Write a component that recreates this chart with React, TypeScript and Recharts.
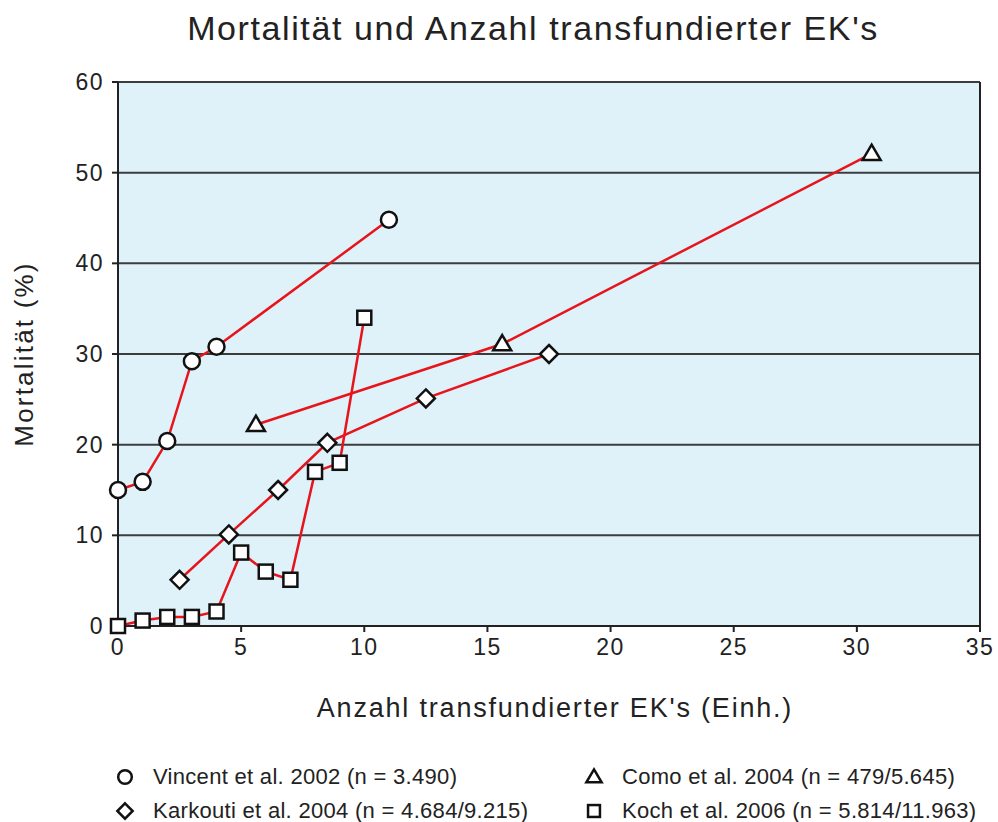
import React from "react";
import { ScatterChart, Scatter, XAxis, YAxis, CartesianGrid } from "recharts";

const vincentX = [0, 1, 2, 3, 4, 11];
const vincentY = [15, 15.9, 20.4, 29.2, 30.8, 44.8];
const comoX = [5.6, 15.6, 30.6];
const comoY = [22.2, 31.1, 52.1];
const karkoutiX = [2.5, 4.5, 6.5, 8.5, 12.5, 17.5];
const karkoutiY = [5.1, 10.1, 15, 20.2, 25.1, 30];
const kochX = [0, 1, 2, 3, 4, 5, 6, 7, 8, 9, 10];
const kochY = [0, 0.6, 1.0, 1.0, 1.6, 8.1, 6.0, 5.1, 17.0, 18.0, 34.0];

const xTicks = [0, 5, 10, 15, 20, 25, 30, 35];
const yTicks = [0, 10, 20, 30, 40, 50, 60];

const legendItems = [
  { name: "Vincent et al. 2002 (n = 3.490)", shape: "circle" },
  { name: "Como et al. 2004 (n = 479/5.645)", shape: "triangle" },
  { name: "Karkouti et al. 2004 (n = 4.684/9.215)", shape: "diamond" },
  { name: "Koch et al. 2006 (n = 5.814/11.963)", shape: "square" },
];

const toPoints = (xs: number[], ys: number[]) => xs.map((x, i) => ({ x, y: ys[i] }));

const FONT = "'Liberation Sans', Arial, sans-serif";
const RED = "#e8141c";
const INK = "#222";

function Marker({ kind, cx, cy, s = 1 }: { kind: string; cx: number; cy: number; s?: number }) {
  const common = { fill: "#fff", stroke: "#111", strokeWidth: 2.5 };
  if (kind === "circle") return <circle cx={cx} cy={cy} r={8 * s} {...common} />;
  if (kind === "square") return <rect x={cx - 7 * s} y={cy - 7 * s} width={14 * s} height={14 * s} {...common} />;
  if (kind === "diamond") {
    const d = 9 * s;
    return <polygon points={`${cx},${cy - d} ${cx + d},${cy} ${cx},${cy + d} ${cx - d},${cy}`} {...common} />;
  }
  const d = 9 * s;
  return <polygon points={`${cx},${cy - d} ${cx + d},${cy + d * 0.7} ${cx - d},${cy + d * 0.7}`} {...common} />;
}

const shapeFor = (kind: string) => (p: any) => <Marker kind={kind} cx={p.cx} cy={p.cy} />;

export default function App() {
  const lineStyle = { stroke: RED, strokeWidth: 2.5 };
  const tickStyle = { fill: INK, fontSize: 23, fontFamily: FONT, letterSpacing: 1.5 };
  return (
    <div style={{ position: "absolute", left: 0, top: 0, width: 998, height: 822, background: "#fff", fontFamily: FONT }}>
      <div
        style={{
          position: "absolute",
          left: 0,
          width: 1066,
          top: 9,
          textAlign: "center",
          fontSize: 34,
          letterSpacing: 1.6,
          color: INK,
          whiteSpace: "nowrap",
        }}
      >
        Mortalität und Anzahl transfundierter EK's
      </div>
      <ScatterChart width={998} height={822} margin={{ top: 82, left: 0, right: 0, bottom: 0 }}>
        <CartesianGrid
          vertical={false}
          horizontalValues={yTicks}
          stroke="#3c3c3c"
          strokeWidth={2}
          fill="#dff2fa"
          fillOpacity={1}
        />
        <XAxis
          type="number"
          dataKey="x"
          domain={[0, 35]}
          ticks={xTicks}
          height={196}
          tickSize={6}
          tickMargin={7}
          stroke={INK}
          strokeWidth={2}
          tick={tickStyle}
          label={{
            value: "Anzahl transfundierter EK's (Einh.)",
            position: "insideTop",
            offset: 72,
            dx: 6,
            fill: INK,
            fontSize: 27,
            fontFamily: FONT,
            letterSpacing: 1.8,
          }}
        />
        <YAxis
          type="number"
          dataKey="y"
          domain={[0, 60]}
          ticks={yTicks}
          width={118}
          tickSize={6}
          tickMargin={8}
          stroke={INK}
          strokeWidth={2}
          tick={tickStyle}
          label={{
            value: "Mortalität (%)",
            angle: -90,
            position: "insideLeft",
            offset: 24,
            fill: INK,
            fontSize: 26,
            fontFamily: FONT,
            letterSpacing: 2.2,
            style: { textAnchor: "middle" },
          }}
        />
        <YAxis yAxisId="r" orientation="right" width={18} tick={false} tickLine={false} stroke={INK} strokeWidth={2} domain={[0, 60]} />
        <Scatter data={toPoints(vincentX, vincentY)} line={lineStyle} shape={shapeFor("circle")} isAnimationActive={false} />
        <Scatter data={toPoints(comoX, comoY)} line={lineStyle} shape={shapeFor("triangle")} isAnimationActive={false} />
        <Scatter data={toPoints(karkoutiX, karkoutiY)} line={lineStyle} shape={shapeFor("diamond")} isAnimationActive={false} />
        <Scatter data={toPoints(kochX, kochY)} line={lineStyle} shape={shapeFor("square")} isAnimationActive={false} />
      </ScatterChart>
      {legendItems.map((item, i) => {
        const col = i % 2;
        const row = Math.floor(i / 2);
        return (
          <div
            key={item.name}
            style={{
              position: "absolute",
              left: col === 0 ? 113 : 582,
              top: 765 + row * 34,
              height: 24,
              display: "flex",
              alignItems: "center",
              fontSize: 22,
              letterSpacing: 0.3,
              color: INK,
              whiteSpace: "nowrap",
            }}
          >
            <svg width={24} height={24} style={{ marginRight: 16 }}>
              <Marker kind={item.shape} cx={12} cy={12} s={0.85} />
            </svg>
            {item.name}
          </div>
        );
      })}
    </div>
  );
}
